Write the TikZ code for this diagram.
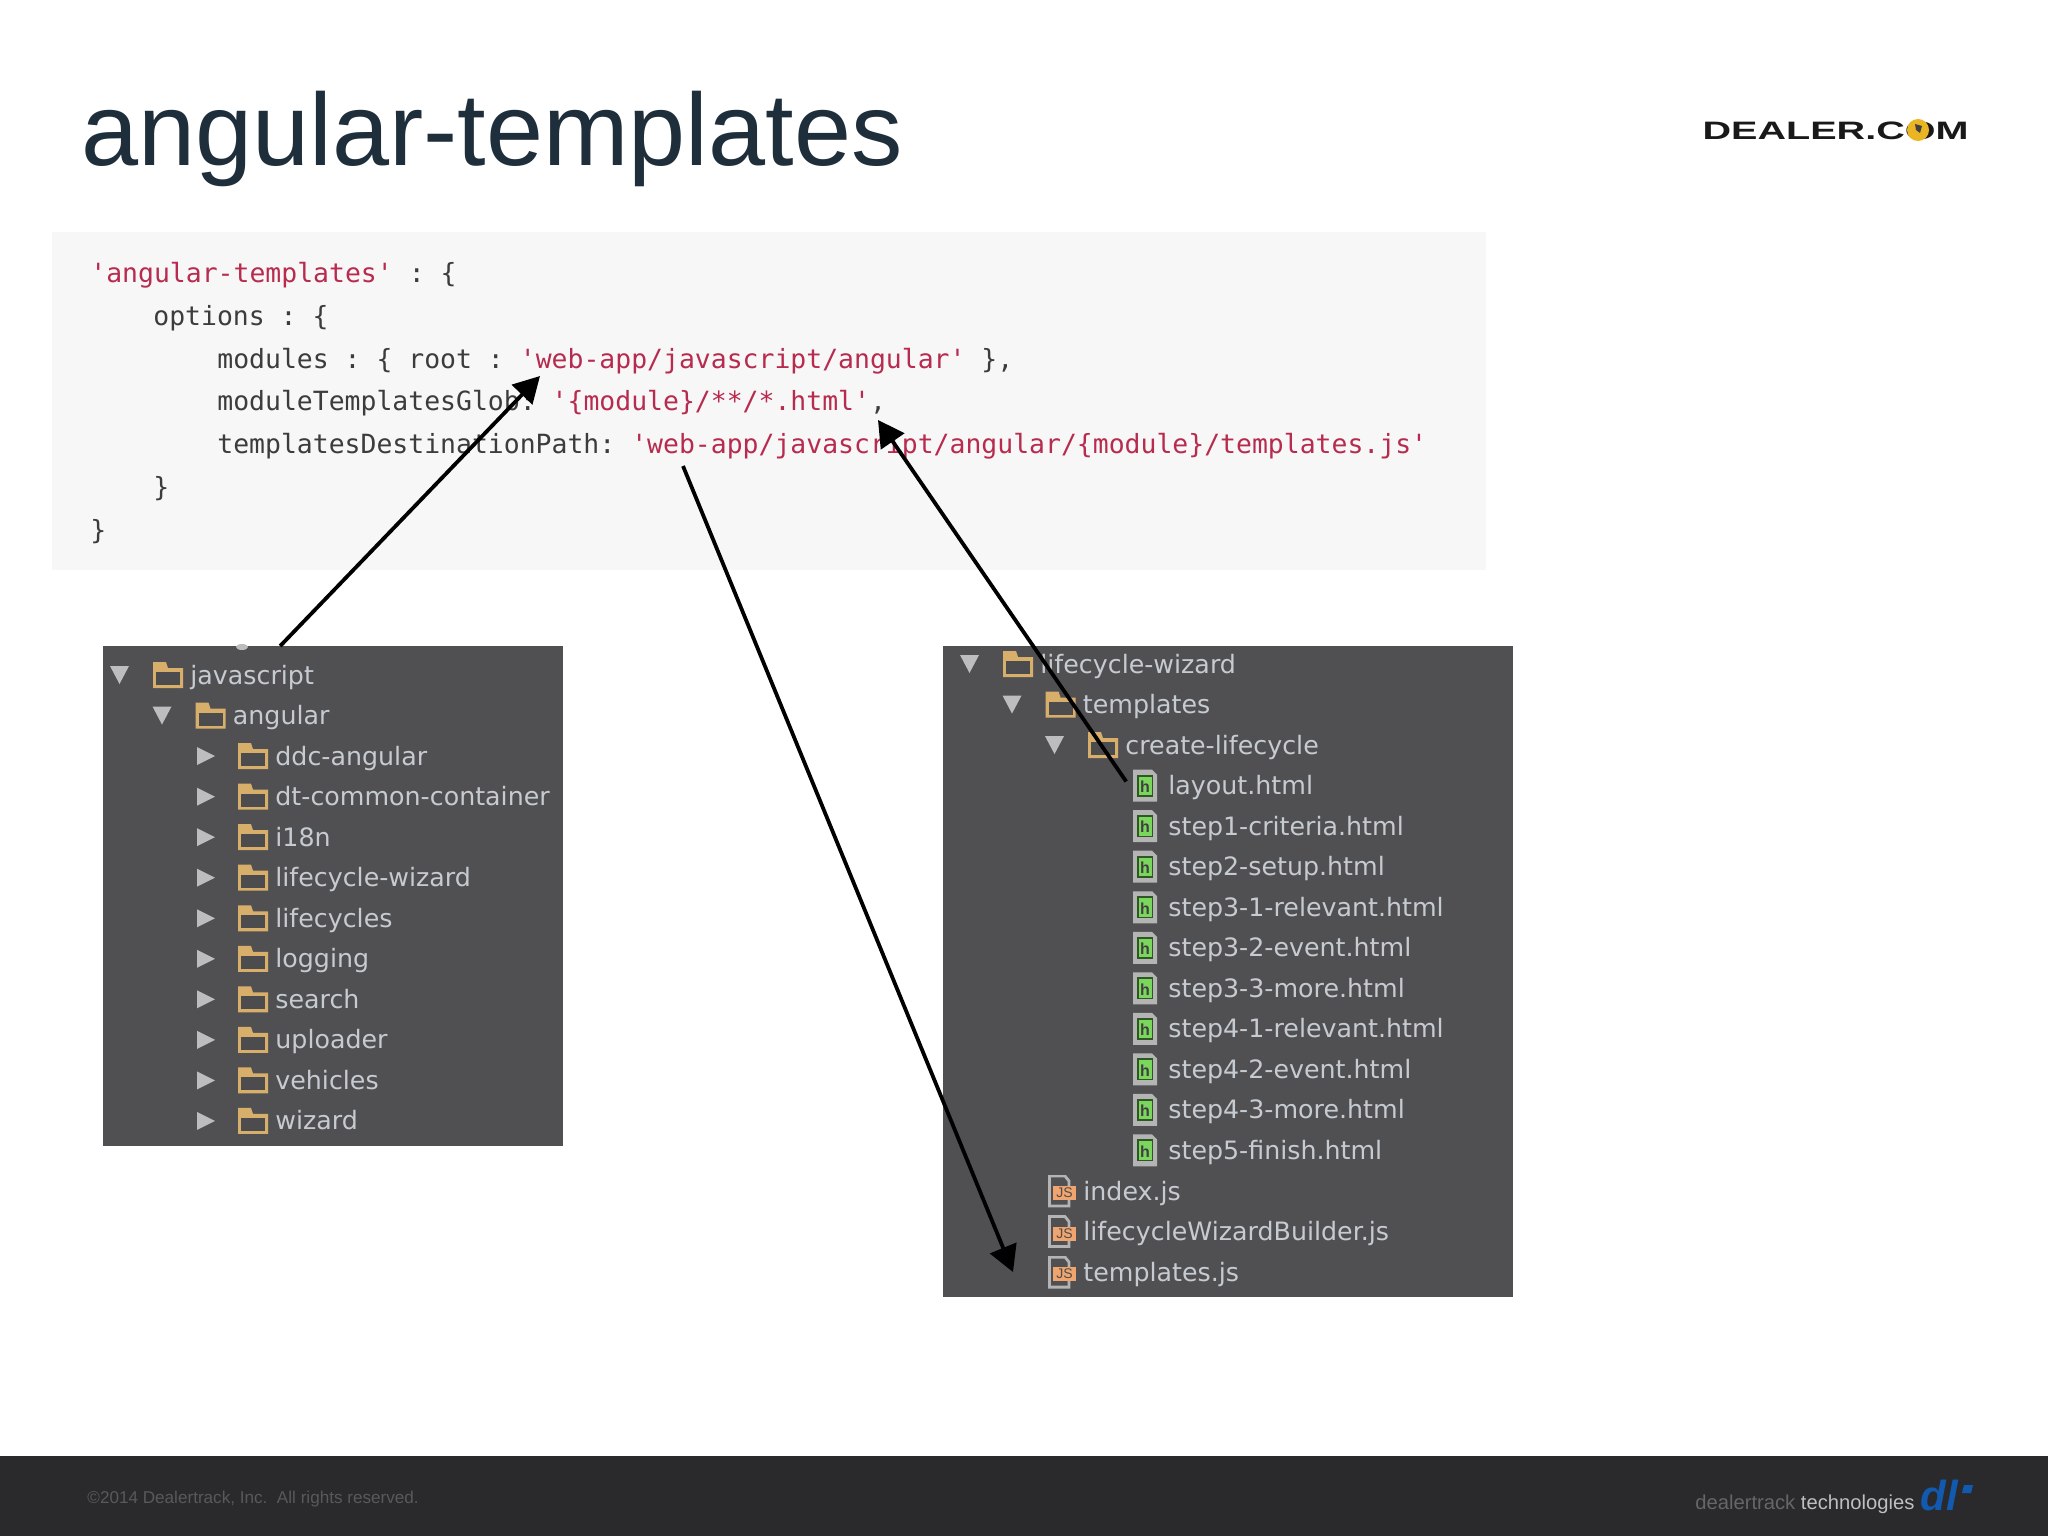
\documentclass[tikz,border=0pt]{standalone}
\usepackage{fontspec}
\setmainfont{Liberation Sans}
\setsansfont{DejaVu Sans}
\setmonofont{DejaVu Sans Mono}
\usetikzlibrary{arrows.meta}
\definecolor{titleink}{HTML}{1F2E3B}
\definecolor{codepaper}{HTML}{F7F7F8}
\definecolor{codeink}{HTML}{3C3C3C}
\definecolor{stringred}{HTML}{B72C4E}
\definecolor{treegrey}{HTML}{505052}
\definecolor{treeink}{HTML}{C6CBD1}
\definecolor{twistgrey}{HTML}{BDBDBF}
\definecolor{foldertan}{HTML}{D8AE6B}
\definecolor{pagegrey}{HTML}{B4B4B4}
\definecolor{htmlgreen}{HTML}{7BD65E}
\definecolor{jsorange}{HTML}{F0A56E}
\definecolor{footerdark}{HTML}{2A2A2C}
\definecolor{logoblue}{HTML}{1259B0}
\definecolor{globegold}{HTML}{E9B522}
\newcommand{\codestr}[1]{\textcolor{stringred}{#1}}
\tikzset{
  icon base/.style={inner sep=0pt,outer sep=0pt,minimum height=16pt,
    label={[row text,xshift=3.5pt]right:#1}},
  row text/.style={font=\sffamily\fontsize{12.65}{14}\selectfont,text=treeink,inner sep=0pt,
    text height=12pt,text depth=3pt},
  folder node/.style={icon base=#1,minimum width=15pt,path picture={
    \begin{scope}[shift={(path picture bounding box.center)},x=.5pt,y=-.5pt]
      \fill[foldertan] (-15,13) -- (-15,-13) -- (-2,-13) -- (0,-7) -- (15,-7) -- (15,13) -- cycle;
      \fill[treegrey!95!black] (-12,-3) rectangle (12,10);
    \end{scope}}},
  html node/.style={icon base=#1,minimum width=16pt,path picture={
    \begin{scope}[shift={(path picture bounding box.center)},x=.5pt,y=-.5pt]
      \fill[pagegrey] (-12,-16) -- (7,-16) -- (12,-11) -- (12,16) -- (-12,16) -- cycle;
      \fill[black!60!htmlgreen] (-8,-11) rectangle (8,11);
      \fill[htmlgreen] (-6.5,-9) rectangle (6.5,9.5);
      \node[inner sep=0pt,font=\fontsize{8}{8}\bfseries\selectfont,text=black!75] at (0,1) {h};
    \end{scope}}},
  js node/.style={icon base=#1,minimum width=14pt,path picture={
    \begin{scope}[shift={(path picture bounding box.center)},x=.5pt,y=-.5pt]
      \draw[pagegrey,line width=1.4pt] (-12.5,-15) -- (3,-15) -- (7,-10) -- (7,15) -- (-12.5,15) -- cycle;
      \fill[jsorange] (-9,-5) rectangle (14,9);
      \node[inner sep=0pt,font=\fontsize{7}{7}\selectfont,text=black!70] at (2.5,2) {JS};
    \end{scope}}},
  twist open/.style={append after command={\pgfextra{
    \fill[twistgrey] ([shift={(-58,-9)}]\tikzlastnode.center) -- ([shift={(-39,-9)}]\tikzlastnode.center)
      -- ([shift={(-48.5,9)}]\tikzlastnode.center) -- cycle;}}},
  twist shut/.style={append after command={\pgfextra{
    \fill[twistgrey] ([shift={(-56,-9)}]\tikzlastnode.center) -- ([shift={(-38,0)}]\tikzlastnode.center)
      -- ([shift={(-56,9)}]\tikzlastnode.center) -- cycle;}}},
  code line/.style={anchor=base west,inner sep=0pt,text=codeink,font=\ttfamily\fontsize{13.22}{15}\selectfont},
  tree panel/.style={fill=treegrey,anchor=north west,inner sep=0pt},
}
\begin{document}
\begin{tikzpicture}[x=.5pt,y=-.5pt,node distance=20.27pt]
  \useasboundingbox (0,0) rectangle (2048,1536);
  \fill[white] (0,0) rectangle (2048,1536);

  % heading and logo
  \node[anchor=base west,inner sep=0pt,text=titleink,font=\fontsize{51.3}{60}\selectfont] (heading) at (81,165) {angular-templates};
  \node[anchor=base west,inner sep=0pt,font=\fontsize{12.6}{14}\bfseries\selectfont,xscale=1.57,text=black!90] (dealer) at (1702,140) {DEALER.COM};
  \node[circle,fill=globegold,minimum size=11pt,inner sep=0pt] (globe) at (1918,130) {};
  \fill[black!75] (1915,124) -- (1922,126) -- (1920,133) -- (1916,130) -- cycle;

  % code block
  \node[fill=codepaper,anchor=north west,minimum width=717pt,minimum height=169pt,inner sep=0pt] (codepanel) at (52,232) {};
  \node[code line] (line1) at (90,282) {\codestr{'angular-templates'} : \{};
  \node[code line] (line2) at (153,325) {options : \{};
  \node[code line] (line3) at (217,368) {modules : \{ root : \codestr{'web-app/javascript/angular'} \},};
  \node[code line] (line4) at (217,410) {moduleTemplatesGlob: \codestr{'\{module\}/**/*.html'},};
  \node[code line] (line5) at (217,453) {templatesDestinationPath: \codestr{'web-app/javascript/angular/\{module\}/templates.js'}};
  \node[code line] (line6) at (153,496) {\}};
  \node[code line] (line7) at (90,539) {\}};

  % left tree
  \node[tree panel,minimum width=230pt,minimum height=250pt] (leftpanel) at (103,646) {};
  \fill[twistgrey] (242,647) ellipse (6 and 3);
  \node[folder node=javascript,twist open] (javascript) at (168,675) {};
  \node[folder node=angular,twist open] (angular) [below of=javascript,xshift=21.25pt] {};
  \node[folder node=ddc-angular,twist shut] (ddc) [below of=angular,xshift=21.25pt] {};
  \node[folder node=dt-common-container,twist shut] (common) [below of=ddc] {};
  \node[folder node=i18n,twist shut] (i18n) [below of=common] {};
  \node[folder node=lifecycle-wizard,twist shut] (wizardleft) [below of=i18n] {};
  \node[folder node=lifecycles,twist shut] (lifecycles) [below of=wizardleft] {};
  \node[folder node=logging,twist shut] (logging) [below of=lifecycles] {};
  \node[folder node=search,twist shut] (search) [below of=logging] {};
  \node[folder node=uploader,twist shut] (uploader) [below of=search] {};
  \node[folder node=vehicles,twist shut] (vehicles) [below of=uploader] {};
  \node[folder node=wizard,twist shut] (wizard) [below of=vehicles] {};

  % right tree
  \node[tree panel,minimum width=285pt,minimum height=325.5pt] (rightpanel) at (943,646) {};
  \node[folder node=lifecycle-wizard,twist open] (lifecycle) at (1018,664) {};
  \node[folder node=templates,twist open] (templates) [below of=lifecycle,xshift=21.25pt] {};
  \node[folder node=create-lifecycle,twist open] (create) [below of=templates,xshift=21.25pt] {};
  \node[html node=layout.html] (layout) [below of=create,xshift=21pt] {};
  \node[html node=step1-criteria.html] (step1) [below of=layout] {};
  \node[html node=step2-setup.html] (step2) [below of=step1] {};
  \node[html node=step3-1-relevant.html] (step31) [below of=step2] {};
  \node[html node=step3-2-event.html] (step32) [below of=step31] {};
  \node[html node=step3-3-more.html] (step33) [below of=step32] {};
  \node[html node=step4-1-relevant.html] (step41) [below of=step33] {};
  \node[html node=step4-2-event.html] (step42) [below of=step41] {};
  \node[html node=step4-3-more.html] (step43) [below of=step42] {};
  \node[html node=step5-finish.html] (step5) [below of=step43] {};
  \node[js node=index.js] (index) [below of=step5,xshift=-41.5pt] {};
  \node[js node=lifecycleWizardBuilder.js] (builder) [below of=index] {};
  \node[js node=templates.js] (templatesjs) [below of=builder] {};

  % arrows
  \coordinate (rootpath) at (540,376);
  \coordinate (globcomma) at (878,420);
  \coordinate (destpath) at (683,466);
  \coordinate (destfile) at (1013,1272);
  \path[-{Triangle[length=13pt,width=14pt]},line width=1.9pt,black]
  (leftpanel.102.6) edge (rootpath)
  (layout.west) edge[shorten <=2.5pt] (globcomma)
  (destpath) edge (destfile);

  % footer
  \node[fill=footerdark,anchor=north west,minimum width=1024pt,minimum height=40pt,inner sep=0pt] (footer) at (0,1456) {};
  \node[anchor=base west,inner sep=0pt,text=black!65,font=\fontsize{8.56}{11}\selectfont] (rights) at (87,1503) {©2014 Dealertrack, Inc.\ \ All rights reserved.};
  \node[anchor=base west,inner sep=0pt,font=\fontsize{10.1}{11}\selectfont] (tracklogo) at (1695,1509) {\textcolor{black!60}{dealertrack} \textcolor{black!25}{technologies}};
  \node[anchor=base west,inner sep=0pt,text=logoblue,font=\fontsize{21}{22}\bfseries\itshape\selectfont] (dllogo) at (1920,1510) {dl};
  \fill[logoblue] (1964,1485) -- (1973,1485) -- (1971,1493) -- (1962,1493) -- cycle;
\end{tikzpicture}
\end{document}
